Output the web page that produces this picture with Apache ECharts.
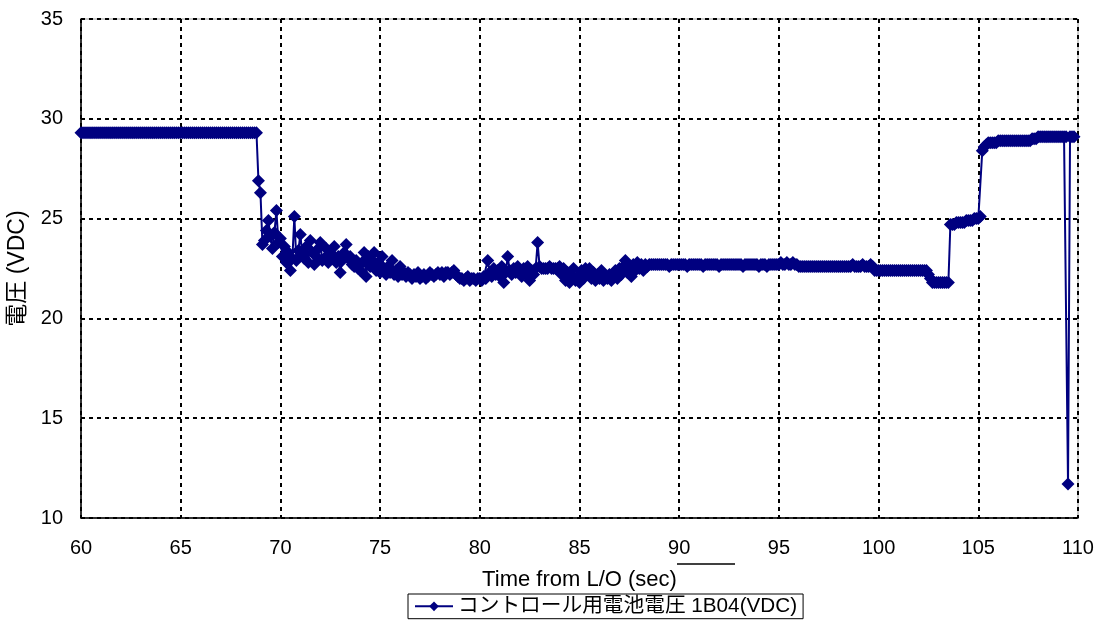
<!DOCTYPE html>
<html>
<head>
<meta charset="utf-8">
<script src="https://cdn.jsdelivr.net/npm/echarts@6/dist/echarts.min.js"></script>
<style>
  html, body { margin: 0; padding: 0; background: #fff; }
  #chart { width: 1098px; height: 623px; }
</style>
</head>
<body>
<div id="chart"></div>
<script>
// Control battery voltage 1B04, sampled every 0.1 s from T+60 s after lift-off
const seriesName = 'コントロール用電池電圧 1B04(VDC)';
const startTime = 60;      // seconds from L/O of the first sample
const sampleStep = 0.1;    // seconds between samples

const voltage = [
  // 60 - 67.9 s
  29.3,29.3,29.3,29.3,29.3,29.3,29.3,29.3,29.3,29.3,
  29.3,29.3,29.3,29.3,29.3,29.3,29.3,29.3,29.3,29.3,
  29.3,29.3,29.3,29.3,29.3,29.3,29.3,29.3,29.3,29.3,
  29.3,29.3,29.3,29.3,29.3,29.3,29.3,29.3,29.3,29.3,
  29.3,29.3,29.3,29.3,29.3,29.3,29.3,29.3,29.3,29.3,
  29.3,29.3,29.3,29.3,29.3,29.3,29.3,29.3,29.3,29.3,
  29.3,29.3,29.3,29.3,29.3,29.3,29.3,29.3,29.3,29.3,
  29.3,29.3,29.3,29.3,29.3,29.3,29.3,29.3,29.3,29.3,
  // 68 s
  29.3,29.3,29.3,29.3,29.3,29.3,29.3,29.3,29.3,26.9,
  // 69 s
  26.3,23.7,23.9,24.4,24.9,24.1,23.5,24.3,25.4,23.8,
  // 70 s
  24.0,23.1,23.6,22.8,23.3,22.4,23.0,25.1,22.9,23.4,
  // 71 s
  24.2,23.2,23.0,23.6,22.8,23.9,23.3,22.7,23.1,23.5,
  // 72 s
  23.8,22.9,23.0,23.5,22.8,23.2,23.0,23.6,22.8,23.1,
  // 73 s
  22.3,22.9,23.3,23.7,23.0,23.1,22.7,22.6,22.9,22.5,
  // 74 s
  22.4,22.8,23.3,22.1,23.1,22.6,22.9,23.3,22.4,22.8,
  // 75 s
  22.3,23.1,22.5,22.2,22.6,22.3,22.9,22.2,22.4,22.1,
  // 76 s
  22.6,22.2,22.3,22.1,22.3,22.2,22.0,22.2,22.1,22.3,
  // 77 s
  22.0,22.1,22.2,22.0,22.1,22.3,22.2,22.1,22.2,22.3,
  // 78 s
  22.2,22.3,22.1,22.3,22.3,22.2,22.3,22.4,22.2,22.1,
  // 79 s
  22.0,22.0,21.9,22.0,22.1,21.9,22.0,22.0,21.9,22.0,
  // 80 s
  22.0,21.9,22.1,22.0,22.9,22.3,22.1,22.5,22.2,22.4,
  // 81 s
  22.1,22.6,21.8,22.3,23.1,22.4,22.2,22.5,22.3,22.6,
  // 82 s
  22.4,22.1,22.5,22.3,22.6,21.9,22.4,22.2,22.5,23.8,
  // 83 s
  22.6,22.5,22.5,22.5,22.5,22.6,22.5,22.5,22.5,22.5,
  // 84 s
  22.6,22.2,22.5,21.9,22.3,21.8,22.0,22.5,21.9,22.1,
  // 85 s
  21.8,22.4,22.0,22.5,22.2,22.5,22.0,22.3,21.9,22.2,
  // 86 s
  22.0,22.4,21.9,22.1,22.0,22.2,21.9,22.1,22.4,22.0,
  // 87 s
  22.5,22.2,22.6,22.9,22.3,22.6,22.1,22.7,22.4,22.8,
  // 88 s
  22.5,22.7,22.4,22.7,22.6,22.7,22.7,22.7,22.7,22.7,
  // 89 s
  22.7,22.7,22.7,22.7,22.7,22.6,22.7,22.7,22.7,22.7,
  // 90 s
  22.7,22.7,22.7,22.7,22.6,22.7,22.7,22.7,22.7,22.7,
  // 91 s
  22.7,22.7,22.6,22.7,22.7,22.7,22.7,22.7,22.7,22.7,
  // 92 s
  22.6,22.7,22.7,22.7,22.7,22.7,22.7,22.7,22.7,22.7,
  // 93 s
  22.7,22.7,22.6,22.7,22.7,22.7,22.7,22.7,22.7,22.7,
  // 94 s
  22.6,22.7,22.7,22.7,22.6,22.7,22.7,22.7,22.7,22.7,
  // 95 s
  22.7,22.8,22.7,22.7,22.8,22.7,22.7,22.8,22.7,22.7,
  // 96 s
  22.6,22.6,22.6,22.6,22.6,22.6,22.6,22.6,22.6,22.6,
  // 97 s
  22.6,22.6,22.6,22.6,22.6,22.6,22.6,22.6,22.6,22.6,
  // 98 s
  22.6,22.6,22.6,22.6,22.6,22.6,22.6,22.7,22.6,22.6,
  // 99 s
  22.6,22.6,22.7,22.6,22.6,22.6,22.7,22.6,22.4,22.4,
  // 100 s
  22.4,22.4,22.4,22.4,22.4,22.4,22.4,22.4,22.4,22.4,
  // 101 s
  22.4,22.4,22.4,22.4,22.4,22.4,22.4,22.4,22.4,22.4,
  // 102 s
  22.4,22.4,22.4,22.4,22.4,22.2,22.0,21.8,21.8,21.8,
  // 103 s
  21.8,21.8,21.8,21.8,21.8,21.8,24.7,24.7,24.7,24.8,
  // 104 s
  24.8,24.8,24.8,24.8,24.9,24.9,24.9,24.9,25.0,25.0,
  // 105 s
  25.0,25.1,28.4,28.6,28.7,28.8,28.8,28.8,28.8,28.8,
  // 106 s
  28.9,28.9,28.9,28.9,28.9,28.9,28.9,28.9,28.9,28.9,
  // 107 s
  28.9,28.9,28.9,28.9,28.9,28.9,28.9,29.0,29.0,29.0,
  // 108 s
  29.1,29.1,29.1,29.1,29.1,29.1,29.1,29.1,29.1,29.1,
  // 109 s
  29.1,29.1,29.1,29.1,29.1,11.7,29.1,29.1,29.1
];

const xTicks = { min: 60, max: 110, step: 5 };
const yTicks = { min: 10, max: 35, step: 5 };

const points = voltage.map((v, i) => [+(startTime + i * sampleStep).toFixed(1), v]);

const FONT = '"Liberation Sans", Arial, "Noto Sans CJK JP", sans-serif';
const NAVY = '#000080';

const chart = echarts.init(document.getElementById('chart'), null, { renderer: 'canvas' });

const gridLine = { show: true, lineStyle: { color: '#000', width: 2, type: [4, 4] } };

chart.setOption({
  animation: false,
  backgroundColor: '#fff',
  grid: {
    left: 81, right: 20, top: 19, bottom: 105,
    outerBoundsMode: 'none',
    containLabel: false,
    show: true, borderColor: '#9a9a9a', borderWidth: 1, backgroundColor: 'transparent'
  },
  xAxis: {
    type: 'value',
    min: xTicks.min, max: xTicks.max, interval: xTicks.step,
    name: 'Time from L/O (sec)',
    nameLocation: 'middle', nameGap: 51,
    nameTextStyle: { fontFamily: FONT, fontSize: 22, color: '#000' },
    axisLine: { show: true, onZero: false, lineStyle: { color: '#000', width: 1.5 } },
    axisTick: { show: false },
    axisLabel: { fontFamily: FONT, fontSize: 20, color: '#000', margin: 20 },
    splitLine: gridLine
  },
  yAxis: {
    type: 'value',
    min: yTicks.min, max: yTicks.max, interval: yTicks.step,
    name: '電圧 (VDC)',
    nameLocation: 'middle', nameGap: 52, nameRotate: 90,
    nameTextStyle: { fontFamily: FONT, fontSize: 23, color: '#000' },
    axisLine: { show: true, onZero: false, lineStyle: { color: '#000', width: 1.5 } },
    axisTick: { show: false },
    axisLabel: { fontFamily: FONT, fontSize: 20, color: '#000', margin: 18 },
    splitLine: gridLine
  },
  legend: {
    left: 408, top: 594,
    padding: [2, 6, 2, 6],
    borderColor: '#000', borderWidth: 1,
    itemWidth: 38, itemHeight: 12, itemGap: 6,
    textStyle: { fontFamily: FONT, fontSize: 20.7, color: '#000' },
    data: [seriesName]
  },
  graphic: [{
    type: 'line',
    shape: { x1: 677, y1: 564, x2: 735, y2: 564 },
    style: { stroke: '#000', lineWidth: 1.5 }
  }],
  series: [{
    name: seriesName,
    type: 'line',
    data: points,
    symbol: 'diamond',
    symbolSize: 13,
    showAllSymbol: true,
    clip: false,
    lineStyle: { color: NAVY, width: 2 },
    itemStyle: { color: NAVY }
  }]
});
</script>
</body>
</html>
